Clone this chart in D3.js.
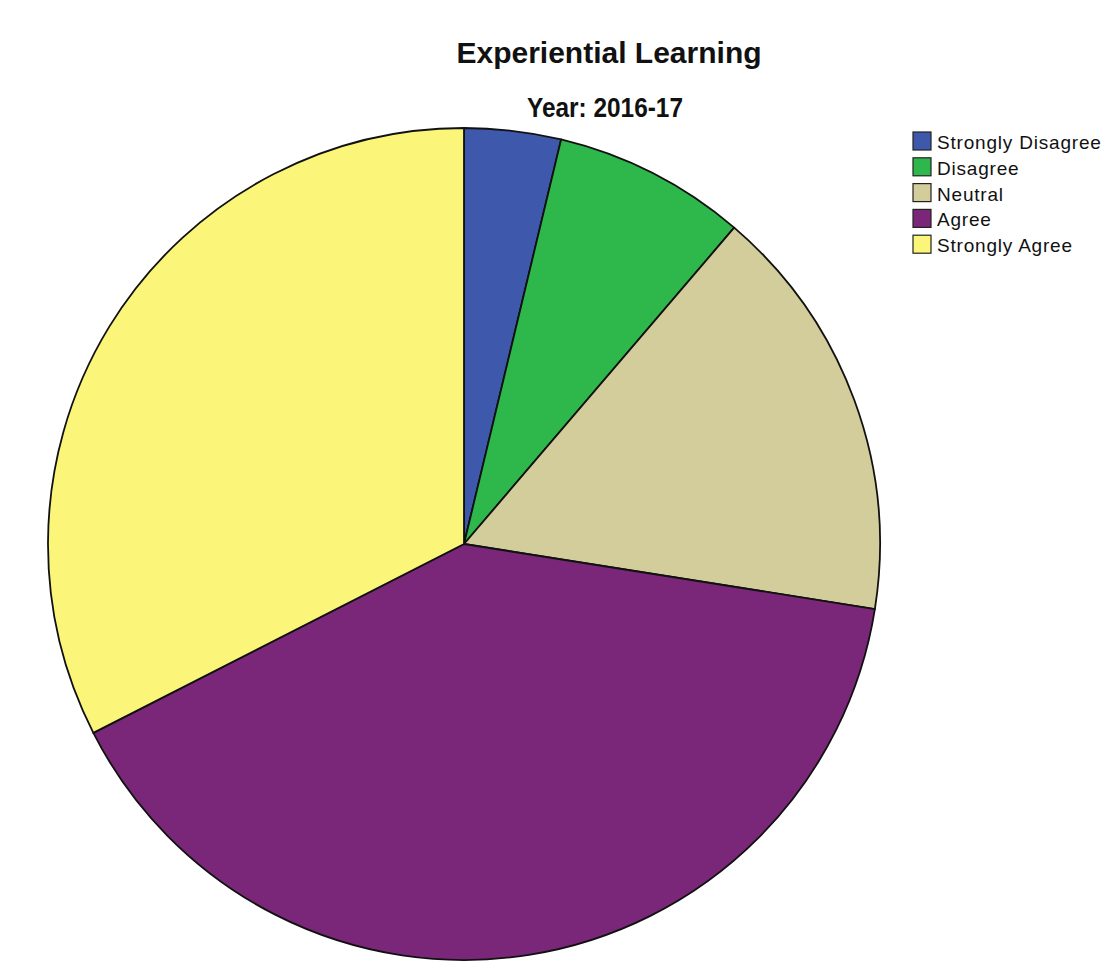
<!DOCTYPE html>
<html>
<head>
<meta charset="utf-8">
<script src="https://cdn.jsdelivr.net/npm/d3@7/dist/d3.min.js"></script>
<style>
  html, body { margin: 0; padding: 0; background: #fff; }
  svg { display: block; }
</style>
</head>
<body>
<script>
const categories = ["Strongly Disagree", "Disagree", "Neutral", "Agree", "Strongly Agree"];
const counts = [3, 6, 13, 32, 26];
const colors = ["#3e58ac", "#2eb84b", "#d3cd9b", "#7b2779", "#fbf67a"];
const title = "Experiential Learning";
const subtitle = "Year: 2016-17";

const W = 1110, H = 963;
const cx = 464, cy = 544, R = 416;

const svg = d3.select("body").append("svg").attr("width", W).attr("height", H);

const data = categories.map((c, i) => ({ cat: c, value: counts[i], color: colors[i] }));
const pie = d3.pie().value(d => d.value).sort(null);
const arc = d3.arc().innerRadius(0).outerRadius(R);

svg.append("g").attr("transform", `translate(${cx},${cy})`)
  .selectAll("path").data(pie(data)).join("path")
  .attr("d", arc)
  .attr("fill", d => d.data.color)
  .attr("stroke", "#111")
  .attr("stroke-width", 1.8)
  .attr("stroke-linejoin", "round");

svg.append("text").attr("x", 609).attr("y", 63)
  .attr("text-anchor", "middle")
  .style("font-family", "Liberation Sans, Arial, sans-serif")
  .style("font-weight", "bold").style("font-size", "30px").attr("fill", "#111")
  .text(title);

svg.append("text").attr("x", 605).attr("y", 117)
  .attr("text-anchor", "middle")
  .style("font-family", "Liberation Sans, Arial, sans-serif")
  .style("font-weight", "bold").style("font-size", "27px").attr("fill", "#111")
  .attr("textLength", 156).attr("lengthAdjust", "spacingAndGlyphs")
  .text(subtitle);

const legend = svg.append("g");
const rowY = d3.scaleBand().domain(categories).range([131, 260]);
const items = legend.selectAll("g").data(data).join("g")
  .attr("transform", d => `translate(913,${rowY(d.cat)})`);
items.append("rect").attr("x", 0).attr("y", 1).attr("width", 18).attr("height", 18)
  .attr("fill", d => d.color).attr("stroke", "#222").attr("stroke-width", 1.2);
items.append("text").attr("x", 24).attr("y", 18)
  .style("font-family", "Liberation Sans, Arial, sans-serif")
  .style("font-size", "19px").style("letter-spacing", "0.8px").attr("fill", "#111")
  .text(d => d.cat);
</script>
</body>
</html>
